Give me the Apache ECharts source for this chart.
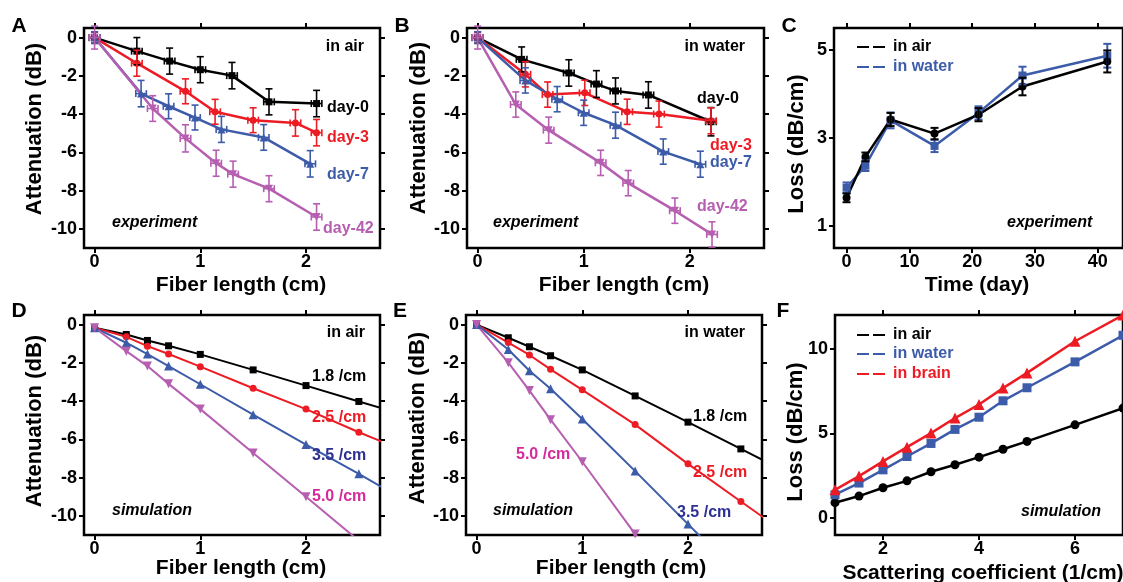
<!DOCTYPE html>
<html><head><meta charset="utf-8">
<script src="https://cdn.jsdelivr.net/npm/echarts@6/dist/echarts.min.js"></script>
<style>html,body{margin:0;padding:0;background:#fff}#c{width:1123px;height:582px}</style>
</head><body><div id="c"></div><script>
// ---------- Panel A (experiment, in air) ----------
const aX0 = [0, 0.40, 0.71, 1.00, 1.30, 1.65, 2.10];
const aY0 = [0, -0.71, -1.23, -1.68, -1.99, -3.36, -3.45];
const aE0 = [0.3, 0.71, 0.68, 0.68, 0.69, 0.68, 0.69];
const aX3 = [0, 0.40, 0.86, 1.14, 1.50, 1.90, 2.10];
const aY3 = [0, -1.34, -2.81, -3.88, -4.32, -4.46, -4.97];
const aE3 = [0.3, 0.68, 0.65, 0.65, 0.65, 0.69, 0.69];
const aX7 = [0, 0.44, 0.70, 0.95, 1.20, 1.60, 2.04];
const aY7 = [0, -2.93, -3.59, -4.18, -4.80, -5.22, -6.60];
const aE7 = [0.3, 0.69, 0.65, 0.65, 0.68, 0.67, 0.69];
const aX42 = [0, 0.55, 0.86, 1.15, 1.31, 1.65, 2.10];
const aY42 = [0, -3.71, -5.27, -6.57, -7.14, -7.90, -9.38];
const aE42 = [0.6, 0.67, 0.71, 0.68, 0.68, 0.68, 0.69];
// ---------- Panel B (experiment, in water) ----------
const bX0 = [0, 0.415, 0.86, 1.12, 1.30, 1.61, 2.20];
const bY0 = [0, -1.14, -1.85, -2.43, -2.79, -3.00, -4.40];
const bE0 = [0.3, 0.65, 0.69, 0.70, 0.68, 0.69, 0.74];
const bX3 = [0, 0.45, 0.66, 1.01, 1.41, 1.71, 2.20];
const bY3 = [0, -1.92, -2.98, -2.89, -3.88, -4.00, -4.35];
const bE3 = [0.3, 0.66, 0.66, 0.66, 0.66, 0.68, 0.68];
const bX7 = [0, 0.45, 0.75, 1.00, 1.30, 1.75, 2.10];
const bY7 = [0, -2.24, -3.22, -3.93, -4.58, -5.96, -6.62];
const bE7 = [0.3, 0.66, 0.66, 0.66, 0.68, 0.66, 0.68];
const bX42 = [0, 0.36, 0.67, 1.16, 1.42, 1.86, 2.21];
const bY42 = [0, -3.50, -4.84, -6.55, -7.61, -9.05, -10.29];
const bE42 = [0.6, 0.66, 0.68, 0.66, 0.66, 0.66, 0.66];
const expXErr = 0.05;
// ---------- Panel C (loss vs time) ----------
const cDays = [0, 3, 7, 14, 21, 28, 41.5];
const cAir = [1.64, 2.57, 3.42, 3.10, 3.53, 4.17, 4.74];
const cAirErr = [0.10, 0.10, 0.15, 0.13, 0.15, 0.20, 0.25];
const cWater = [1.87, 2.37, 3.40, 2.82, 3.57, 4.42, 4.87];
const cWaterErr = [0.12, 0.12, 0.18, 0.14, 0.15, 0.20, 0.27];
// ---------- Panel D (simulation, in air) ----------
const simX = [0, 0.3, 0.5, 0.7, 1.0, 1.5, 2.0, 2.5, 3.0];
const d18 = [-0.17, -0.52, -0.83, -1.11, -1.56, -2.37, -3.19, -4.02, -4.83];
const d25 = [-0.17, -0.64, -1.13, -1.54, -2.20, -3.33, -4.42, -5.63, -6.75];
const d35 = [-0.17, -0.95, -1.54, -2.17, -3.12, -4.71, -6.27, -7.80, -9.40];
const d50 = [-0.17, -1.39, -2.17, -3.10, -4.42, -6.71, -9.00, -11.3, -13.6];
// ---------- Panel E (simulation, in water) ----------
const e18 = [0, -0.69, -1.16, -1.63, -2.37, -3.73, -5.10, -6.50, -7.90];
const e25 = [0, -0.94, -1.59, -2.34, -3.41, -5.23, -7.28, -9.25, -11.2];
const e35 = [0, -1.30, -2.41, -3.36, -4.94, -7.66, -10.43, -13.2, -16.0];
const e50 = [0, -1.99, -3.45, -4.97, -7.17, -10.95, -14.7, -18.5, -22.3];
// ---------- Panel F (loss vs scattering coefficient) ----------
const fX = [1, 1.5, 2, 2.5, 3, 3.5, 4, 4.5, 5, 6, 7];
const fAir = [0.91, 1.30, 1.79, 2.20, 2.74, 3.15, 3.60, 4.07, 4.53, 5.51, 6.50];
const fWater = [1.38, 2.07, 2.85, 3.64, 4.41, 5.24, 5.96, 6.93, 7.70, 9.23, 10.80];
const fBrain = [1.67, 2.48, 3.35, 4.19, 5.02, 5.91, 6.71, 7.68, 8.58, 10.45, 12.0];
// ---------- tick values ----------
const attTicks = [-10, -8, -6, -4, -2, 0];
const lenTicks = [0, 1, 2];
const cYTicks = [1, 3, 5];
const cXTicks = [0, 10, 20, 30, 40];
const fYTicks = [0, 5, 10];
const fXTicks = [2, 4, 6];

const BLACK = '#000000', RED = '#ed1c24', BLUE = '#3c5ba9', PURPLE = '#b65fb1', NAVY = '#2e3192', MAGENTA = '#d42a9a';
const FF = '"Liberation Sans", Arial, Helvetica, sans-serif';

const grids = [
  {left: 84, top: 28, width: 296, height: 220},
  {left: 467, top: 28, width: 297, height: 220},
  {left: 834, top: 28, width: 295, height: 220},
  {left: 84, top: 315, width: 296, height: 220},
  {left: 466, top: 315, width: 296, height: 220},
  {left: 835, top: 315, width: 296, height: 220}
].map(g => Object.assign({show: true, borderColor: BLACK, borderWidth: 2.5, backgroundColor: 'transparent'}, g));

const ranges = [
  {x: [-0.1, 2.7], xt: lenTicks, y: [-11, 0.5], yt: attTicks},
  {x: [-0.1, 2.7], xt: lenTicks, y: [-11, 0.5], yt: attTicks},
  {x: [-2, 44], xt: cXTicks, y: [0.5, 5.5], yt: cYTicks},
  {x: [-0.1, 2.7], xt: lenTicks, y: [-11, 0.5], yt: attTicks},
  {x: [-0.1, 2.7], xt: lenTicks, y: [-11, 0.5], yt: attTicks},
  {x: [1, 7], xt: fXTicks, y: [-1, 12], yt: fYTicks}
];

const xAxes = [], yAxes = [];
ranges.forEach((r, i) => {
  const tick = (vals) => ({show: true, inside: false, length: 5, lineStyle: {color: BLACK, width: 2}, customValues: vals});
  const lab = (vals, m) => ({show: true, customValues: vals, color: BLACK, fontSize: 18, fontWeight: 'bold', fontFamily: FF, margin: m});
  const line = {show: false, onZero: false};
  xAxes.push({type: 'value', gridIndex: i, position: 'bottom', min: r.x[0], max: r.x[1],
    axisLine: line, splitLine: {show: false}, axisTick: tick(r.xt), axisLabel: lab(r.xt, 5)});
  xAxes.push({type: 'value', gridIndex: i, position: 'top', min: r.x[0], max: r.x[1],
    axisLine: line, splitLine: {show: false}, axisTick: tick(r.xt), axisLabel: {show: false}});
  yAxes.push({type: 'value', gridIndex: i, position: 'left', min: r.y[0], max: r.y[1],
    axisLine: line, splitLine: {show: false}, axisTick: tick(r.yt), axisLabel: lab(r.yt, 7)});
  yAxes.push({type: 'value', gridIndex: i, position: 'right', min: r.y[0], max: r.y[1],
    axisLine: line, splitLine: {show: false}, axisTick: tick(r.yt), axisLabel: {show: false}});
});

function pairs(xs, ys) { return xs.map((x, i) => [x, ys[i]]); }
function errData(xs, ys, es, ex) { return xs.map((x, i) => [x, ys[i], es ? es[i] : 0, ex]); }

function errRender(color, cap, lw) {
  return function (params, api) {
    const x = api.value(0), y = api.value(1), ey = api.value(2), ex = api.value(3);
    const st = {stroke: color, lineWidth: lw};
    const ch = [];
    if (ey > 0) {
      const p1 = api.coord([x, y + ey]), p2 = api.coord([x, y - ey]);
      ch.push({type: 'line', shape: {x1: p1[0], y1: p1[1], x2: p2[0], y2: p2[1]}, style: st});
      ch.push({type: 'line', shape: {x1: p1[0] - cap, y1: p1[1], x2: p1[0] + cap, y2: p1[1]}, style: st});
      ch.push({type: 'line', shape: {x1: p2[0] - cap, y1: p2[1], x2: p2[0] + cap, y2: p2[1]}, style: st});
    }
    if (ex > 0) {
      const q1 = api.coord([x - ex, y]), q2 = api.coord([x + ex, y]);
      ch.push({type: 'line', shape: {x1: q1[0], y1: q1[1], x2: q2[0], y2: q2[1]}, style: st});
      ch.push({type: 'line', shape: {x1: q1[0], y1: q1[1] - cap, x2: q1[0], y2: q1[1] + cap}, style: st});
      ch.push({type: 'line', shape: {x1: q2[0], y1: q2[1] - cap, x2: q2[0], y2: q2[1] + cap}, style: st});
    }
    return {type: 'group', children: ch};
  };
}

const series = [];
function addLine(gi, data, color, symbol, size, lw, rot) {
  series.push({type: 'line', xAxisIndex: gi * 2, yAxisIndex: gi * 2, data: data,
    symbol: symbol, symbolSize: size, symbolRotate: rot || 0, clip: true,
    lineStyle: {color: color, width: lw}, itemStyle: {color: color}, z: 3});
}
function addErr(gi, data, color, cap, lw) {
  series.push({type: 'custom', xAxisIndex: gi * 2, yAxisIndex: gi * 2, data: data,
    renderItem: errRender(color, cap, lw), encode: {x: 0, y: 1}, z: 4});
}

// A
[[aX0, aY0, aE0, BLACK, 'rect', 7, 0], [aX3, aY3, aE3, RED, 'circle', 7, 0],
 [aX7, aY7, aE7, BLUE, 'triangle', 8, 0], [aX42, aY42, aE42, PURPLE, 'triangle', 8, 180]].forEach(s => {
  addLine(0, pairs(s[0], s[1]), s[3], s[4], s[5], 2.5, s[6]);
  addErr(0, errData(s[0], s[1], s[2], expXErr), s[3], 3.5, 1.6);
});
// B
[[bX0, bY0, bE0, BLACK, 'rect', 7, 0], [bX3, bY3, bE3, RED, 'circle', 7, 0],
 [bX7, bY7, bE7, BLUE, 'triangle', 8, 0], [bX42, bY42, bE42, PURPLE, 'triangle', 8, 180]].forEach(s => {
  addLine(1, pairs(s[0], s[1]), s[3], s[4], s[5], 2.5, s[6]);
  addErr(1, errData(s[0], s[1], s[2], expXErr), s[3], 3.5, 1.6);
});
// C
addLine(2, pairs(cDays, cWater), BLUE, 'rect', 8, 2.5);
addErr(2, errData(cDays, cWater, cWaterErr, 0), BLUE, 4, 2);
addLine(2, pairs(cDays, cAir), BLACK, 'circle', 8, 2.5);
addErr(2, errData(cDays, cAir, cAirErr, 0), BLACK, 4, 2);
// D
addLine(3, pairs(simX, d18), BLACK, 'rect', 7, 2);
addLine(3, pairs(simX, d25), RED, 'circle', 7, 2);
addLine(3, pairs(simX, d35), BLUE, 'triangle', 9, 2);
addLine(3, pairs(simX, d50), PURPLE, 'triangle', 9, 2, 180);
// E
addLine(4, pairs(simX, e18), BLACK, 'rect', 7, 2);
addLine(4, pairs(simX, e25), RED, 'circle', 7, 2);
addLine(4, pairs(simX, e35), BLUE, 'triangle', 9, 2);
addLine(4, pairs(simX, e50), PURPLE, 'triangle', 9, 2, 180);
// F
addLine(5, pairs(fX, fAir), BLACK, 'circle', 9, 2.5);
addLine(5, pairs(fX, fWater), BLUE, 'rect', 9, 2.5);
addLine(5, pairs(fX, fBrain), RED, 'triangle', 11, 2.5);

// ---------- text annotations ----------
const G = [];
function txt(t, x, y, color, size, opts) {
  opts = opts || {};
  G.push({type: 'text', x: x, y: y, rotation: opts.rot || 0, z: 100,
    style: {text: t, fill: color, font: (opts.italic ? 'italic ' : '') + 'bold ' + size + 'px ' + FF,
      textAlign: opts.align || 'left', textVerticalAlign: 'middle'}});
}
// panel letters
txt('A', 19, 26, BLACK, 21, {align: 'center'});
txt('B', 402, 26, BLACK, 21, {align: 'center'});
txt('C', 789, 26, BLACK, 21, {align: 'center'});
txt('D', 19, 311, BLACK, 21, {align: 'center'});
txt('E', 400, 311, BLACK, 21, {align: 'center'});
txt('F', 783, 311, BLACK, 21, {align: 'center'});
// axis titles
const R = Math.PI / 2;
txt('Attenuation (dB)', 35, 129, BLACK, 22, {align: 'center', rot: R});
txt('Attenuation (dB)', 419, 128, BLACK, 22, {align: 'center', rot: R});
txt('Loss (dB/cm)', 797, 144, BLACK, 22, {align: 'center', rot: R});
txt('Attenuation (dB)', 35, 421, BLACK, 22, {align: 'center', rot: R});
txt('Attenuation (dB)', 418, 418, BLACK, 22, {align: 'center', rot: R});
txt('Loss (dB/cm)', 796, 432, BLACK, 22, {align: 'center', rot: R});
txt('Fiber length (cm)', 241, 285, BLACK, 21, {align: 'center'});
txt('Fiber length (cm)', 624, 285, BLACK, 21, {align: 'center'});
txt('Time (day)', 977, 285, BLACK, 21, {align: 'center'});
txt('Fiber length (cm)', 241, 568, BLACK, 21, {align: 'center'});
txt('Fiber length (cm)', 621, 568, BLACK, 21, {align: 'center'});
txt('Scattering coefficient (1/cm)', 983, 573, BLACK, 21, {align: 'center'});
// A
txt('in air', 364, 47, BLACK, 16, {align: 'right'});
txt('day-0', 327, 108, BLACK, 16);
txt('day-3', 327, 138, RED, 16);
txt('day-7', 327, 175, BLUE, 16);
txt('day-42', 323, 229, PURPLE, 16);
txt('experiment', 112, 223, BLACK, 16, {italic: true});
// B
txt('in water', 745, 47, BLACK, 16, {align: 'right'});
txt('day-0', 697, 99, BLACK, 16);
txt('day-3', 710, 146, RED, 16);
txt('day-7', 710, 163, BLUE, 16);
txt('day-42', 697, 207, PURPLE, 16);
txt('experiment', 493, 223, BLACK, 16, {italic: true});
// C
txt('experiment', 1007, 223, BLACK, 16, {italic: true});
// D
txt('in air', 365, 333, BLACK, 16, {align: 'right'});
txt('1.8 /cm', 312, 377, BLACK, 16);
txt('2.5 /cm', 312, 418, RED, 16);
txt('3.5 /cm', 312, 456, NAVY, 16);
txt('5.0 /cm', 312, 497, MAGENTA, 16);
txt('simulation', 112, 511, BLACK, 16, {italic: true});
// E
txt('in water', 745, 333, BLACK, 16, {align: 'right'});
txt('1.8 /cm', 693, 417, BLACK, 16);
txt('2.5 /cm', 693, 473, RED, 16);
txt('3.5 /cm', 677, 513, NAVY, 16);
txt('5.0 /cm', 516, 455, MAGENTA, 16);
txt('simulation', 493, 511, BLACK, 16, {italic: true});
// F
txt('simulation', 1021, 512, BLACK, 16, {italic: true});
// legends (C and F)
function legendRow(label, color, y) {
  G.push({type: 'line', z: 100, shape: {x1: 857, y1: y, x2: 885, y2: y},
    style: {stroke: color, lineWidth: 2, lineDash: [12, 4]}});
  txt(label, 893, y, color, 16);
}
legendRow('in air', BLACK, 47);
legendRow('in water', BLUE, 67);
legendRow('in air', BLACK, 335);
legendRow('in water', BLUE, 354);
legendRow('in brain', RED, 374);

const chart = echarts.init(document.getElementById('c'), null, {renderer: 'canvas'});
chart.setOption({
  animation: false,
  backgroundColor: '#ffffff',
  grid: grids,
  xAxis: xAxes,
  yAxis: yAxes,
  series: series,
  graphic: G
});
</script></body></html>
